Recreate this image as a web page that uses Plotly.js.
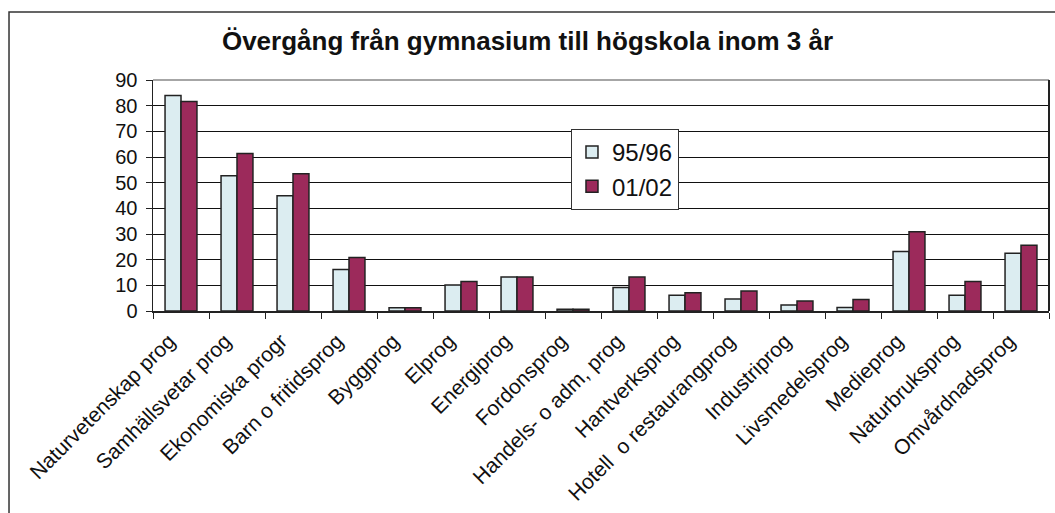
<!DOCTYPE html>
<html>
<head>
<meta charset="utf-8">
<script src="https://cdn.plot.ly/plotly-3.0.1.min.js"></script>
<style>html,body{margin:0;padding:0;background:#fff;}#chart{width:1055px;height:513px;}</style>
</head>
<body>
<div id="chart"></div>
<script>
const categories = ["Naturvetenskap prog","Samhällsvetar prog","Ekonomiska progr","Barn o fritidsprog","Byggprog","Elprog","Energiprog","Fordonsprog","Handels- o adm, prog","Hantverksprog","Hotell  o restaurangprog","Industriprog","Livsmedelsprog","Medieprog","Naturbruksprog","Omvårdnadsprog"];
const series1Name = "95/96";
const series2Name = "01/02";
const values9596 = [84, 52.7, 44.9, 16.2, 1.3, 10.1, 13.2, 0.7, 9.2, 6.1, 4.7, 2.3, 1.4, 23.2, 6.1, 22.5];
const values0102 = [81.6, 61.4, 53.5, 20.8, 1.3, 11.5, 13.2, 0.7, 13.2, 7.1, 7.8, 3.9, 4.5, 30.9, 11.5, 25.6];
const yTicks = [0,10,20,30,40,50,60,70,80,90];
const titleText = "Övergång från gymnasium till högskola inom 3 år";

const FONT = "Arial, 'Liberation Sans', sans-serif";
const traces = [
  {type:"bar", name:series1Name, x:categories, y:values9596, legendgroup:"a",
   marker:{color:"#dcedf1", line:{color:"#222222", width:1.5}}},
  {type:"bar", name:series2Name, x:categories, y:values0102, legendgroup:"b",
   marker:{color:"#9c2a5b", line:{color:"#222222", width:1.5}}}
];
const layout = {
  width:1055, height:513,
  margin:{l:153, r:6, t:80, b:202},
  paper_bgcolor:"#ffffff", plot_bgcolor:"#ffffff",
  font:{family:FONT, color:"#000000"},
  title:{text:"<b>"+titleText+"</b>", font:{family:FONT, size:26, color:"#111111"}, x:0.5, xanchor:"center", y:0.92, yanchor:"middle"},
  barmode:"group", bargap:0.43, bargroupgap:0,
  showlegend:true,
  legend:{x:0.4665, y:0.788, xanchor:"left", yanchor:"top", bgcolor:"#ffffff", bordercolor:"#333333", borderwidth:1,
          font:{family:FONT, size:24, color:"#111111"}, tracegroupgap:14, traceorder:"normal"},
  xaxis:{type:"category", tickangle:-45, tickfont:{family:FONT, size:21, color:"#111111"},
         showline:true, linecolor:"#222222", linewidth:1.5, ticks:"outside", tickson:"boundaries",
         ticklen:6, tickcolor:"#222222", tickwidth:1, showgrid:false, automargin:false,
         ticklabelstandoff:8, ticklabelshift:-12},
  yaxis:{range:[0,90], tickvals:yTicks, ticktext:yTicks.map(String), tickfont:{family:FONT, size:20, color:"#111111"},
         showline:true, linecolor:"#222222", linewidth:1.5, ticks:"outside", ticklen:6, tickcolor:"#222222",
         ticklabelstandoff:4,
         showgrid:true, gridcolor:"#111111", gridwidth:1, zeroline:false, automargin:false},
  shapes:[
    {type:"line", xref:"paper", yref:"paper", x0:0, x1:1, y0:1, y1:1, line:{color:"#888888", width:1.5}},
    {type:"line", xref:"paper", yref:"paper", x0:1, x1:1, y0:0, y1:1, line:{color:"#222222", width:2}},
    {type:"rect", xref:"paper", yref:"paper", x0:-0.1607, x1:1.2, y0:-1.5, y1:1.2944, line:{color:"#333333", width:1.5}, fillcolor:"rgba(0,0,0,0)", layer:"below"}
  ]
};
Plotly.newPlot("chart", traces, layout, {displayModeBar:false, staticPlot:true});
</script>
</body>
</html>
